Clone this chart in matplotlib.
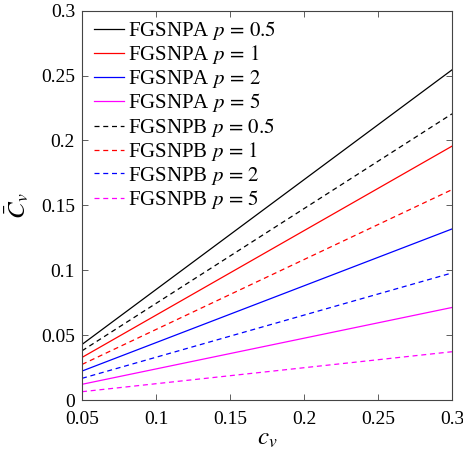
import matplotlib
matplotlib.use('Agg')
import matplotlib.pyplot as plt

plt.rcParams['font.family'] = ['Liberation Serif', 'DejaVu Serif']
plt.rcParams['mathtext.fontset'] = 'stix'

# data (end points of each straight line)
cv = [0.05, 0.3]
pa_05 = [0.0428, 0.2544]
pa_1 = [0.0328, 0.1956]
pa_2 = [0.0223, 0.1318]
pa_5 = [0.0121, 0.0713]
pb_05 = [0.0379, 0.2205]
pb_1 = [0.0274, 0.1621]
pb_2 = [0.0167, 0.0979]
pb_5 = [0.0064, 0.0372]

fig = plt.figure(figsize=(4.64, 4.61), dpi=100)
ax = fig.add_axes([0.1767, 0.1323, 0.7974, 0.8445])

mag = '#FF00FF'
dash = (0, (4, 3))
ax.plot(cv, pa_05, color='k', lw=0.9, label=r'FGSNPA $p\,=\,0.5$')
ax.plot(cv, pa_1, color='r', lw=0.9, label=r'FGSNPA $p\,=\,1$')
ax.plot(cv, pa_2, color='b', lw=0.9, label=r'FGSNPA $p\,=\,2$')
ax.plot(cv, pa_5, color=mag, lw=0.9, label=r'FGSNPA $p\,=\,5$')
ax.plot(cv, pb_05, color='k', lw=0.9, ls=dash, label=r'FGSNPB $p\,=\,0.5$')
ax.plot(cv, pb_1, color='r', lw=0.9, ls=dash, label=r'FGSNPB $p\,=\,1$')
ax.plot(cv, pb_2, color='b', lw=0.9, ls=dash, label=r'FGSNPB $p\,=\,2$')
ax.plot(cv, pb_5, color=mag, lw=0.9, ls=dash, label=r'FGSNPB $p\,=\,5$')

ax.set_xlim(0.05, 0.3)
ax.set_ylim(0, 0.3)
ax.set_xticks([0.05, 0.1, 0.15, 0.2, 0.25, 0.3])
ax.set_xticklabels(['0.05', '0.1', '0.15', '0.2', '0.25', '0.3'])
ax.set_yticks([0, 0.05, 0.1, 0.15, 0.2, 0.25, 0.3])
ax.set_yticklabels(['0', '0.05', '0.1', '0.15', '0.2', '0.25', '0.3'])
ax.tick_params(direction='in', top=True, right=True, labelsize=14, length=4, width=0.6, color='#444444')
ax.tick_params(axis='x', pad=8)
ax.tick_params(axis='y', pad=5)
for s in ax.spines.values():
    s.set_linewidth(0.8)
    s.set_color('#444444')

ax.set_xlabel('$c_v$', fontsize=18, labelpad=0)
ax.set_ylabel(r'$\bar{C}_v$', fontsize=18, labelpad=7)

ax.legend(loc='upper left', frameon=False, fontsize=15, handlelength=1.45,
          handletextpad=0.2, labelspacing=0.07, borderaxespad=0.2,
          borderpad=0.2, bbox_to_anchor=(0.01, 1.0))

fig.savefig('out.png', dpi=100)
